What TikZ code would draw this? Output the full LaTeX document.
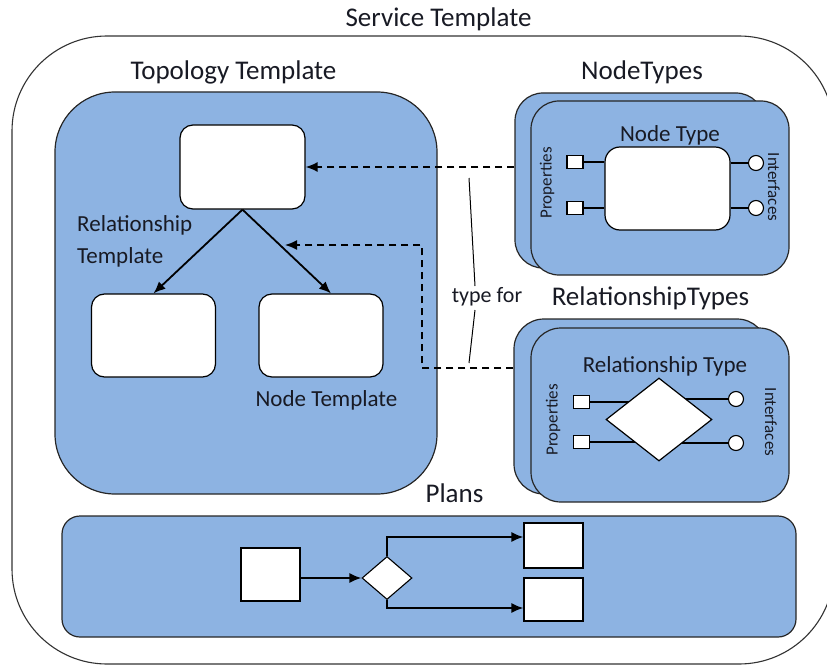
\documentclass[tikz,border=0pt]{standalone}
\usepackage{fontspec}
\setmainfont{Carlito}
\usetikzlibrary{arrows.meta,shapes.geometric,calc}
\definecolor{panelblue}{RGB}{141,179,226}
\definecolor{ink}{RGB}{24,26,36}
\pgfdeclarelayer{panels}
\pgfdeclarelayer{wires}
\pgfsetlayers{panels,wires,main}
\begin{document}
\begin{tikzpicture}[x=1pt,y=-1pt,
  panel/.style={draw=black!85,line width=1.2pt,fill=panelblue,inner sep=0pt},
  card/.style={draw=black,line width=1.2pt,fill=white,inner sep=0pt,rounded corners=13pt},
  plainbox/.style={draw=black,line width=1.1pt,fill=white,inner sep=0pt},
  title/.style={font=\fontsize{27}{32}\selectfont,text=ink,inner sep=0pt},
  label/.style={font=\fontsize{23}{32}\selectfont,text=ink,inner sep=0pt},
  small/.style={font=\fontsize{17}{19}\selectfont,text=ink,inner sep=0pt},
  port/.style={draw=black,line width=1.1pt,fill=white,minimum width=16pt,minimum height=13pt,inner sep=0pt},
  iface/.style={circle,draw=black,line width=1.1pt,fill=white,minimum size=15pt,inner sep=0pt},
  link/.style={line width=1.8pt,-{Latex[length=12pt,width=10pt]}},
  typeref/.style={line width=1.6pt,dash pattern=on 7pt off 5pt,-{Latex[length=12pt,width=10pt]}},
  wire/.style={line width=1.4pt},
  bracket/.style={line width=1pt}
]
\useasboundingbox (0,0) rectangle (827,666);
\clip (0,0) rectangle (827,666);

% ---------- service template frame ----------
\begin{pgfonlayer}{panels}
\draw[line width=1.1pt,draw=black!80,rounded corners=95pt] (12,36) rectangle (834,664);
\end{pgfonlayer}
\node[title] (svc) at (438.5,19) {Service Template};

% ---------- topology template ----------
\node[title] (topoT) at (233.5,72) {Topology Template};
\begin{pgfonlayer}{panels}
\node[panel,rounded corners=60pt,minimum width=382pt,minimum height=402pt] (topo) at (246,293) {};
\end{pgfonlayer}
\node[card,minimum width=125pt,minimum height=84pt] (rel) at (242.5,167) {};
\node[card,minimum width=124pt,minimum height=83pt] (srcN) at (153.5,335.5) {};
\node[card,minimum width=124pt,minimum height=83pt] (tgtN) at (321,335.5) {};
\draw[link] (rel.south) -- (srcN.north);
\draw[link] (rel.south) -- ($(tgtN.north)+(10,0)$);
\node[label,align=left,anchor=north west] (relLbl) at (77,215) {Relationship\\Template};
\node[label] (ntLbl) at (326.5,400) {Node Template};

% ---------- node types ----------
\node[title] (ntT) at (642,72) {NodeTypes};
\begin{pgfonlayer}{panels}
\node[panel,rounded corners=28pt,minimum width=249pt,minimum height=175pt] (ntBack) at (639.5,180.5) {};
\node[panel,rounded corners=28pt,minimum width=258pt,minimum height=174pt] (ntFront) at (660,188) {};
\end{pgfonlayer}
\node[label] (ntName) at (670,135) {Node Type};
\node[card,rounded corners=15pt,minimum width=125pt,minimum height=83pt] (ntBody) at (667.5,188.5) {};
\node[port] (ntP1) at (575,162) {};
\node[port] (ntP2) at (575,208) {};
\node[iface] (ntI1) at (756,163) {};
\node[iface] (ntI2) at (756,208) {};
\draw[wire] (ntP1.east) -- (ntP1.east -| ntBody.west);
\draw[wire] (ntP2.east) -- (ntP2.east -| ntBody.west);
\draw[wire] (ntI1.west -| ntBody.east) -- (ntI1.west);
\draw[wire] (ntI2.west -| ntBody.east) -- (ntI2.west);
\node[small,rotate=90] (ntProps) at (547,183) {Properties};
\node[small,rotate=-90] (ntIfs) at (774,187) {Interfaces};

% ---------- relationship types ----------
\node[title] (rtT) at (650.5,298) {RelationshipTypes};
\begin{pgfonlayer}{panels}
\node[panel,rounded corners=30pt,minimum width=253pt,minimum height=175pt] (rtBack) at (640.5,406.5) {};
\node[panel,rounded corners=30pt,minimum width=258pt,minimum height=174pt] (rtFront) at (660,415) {};
\end{pgfonlayer}
\node[label] (rtName) at (665,366) {Relationship Type};
\node[diamond,draw=black,line width=1.2pt,fill=white,inner sep=0pt,minimum width=106pt,minimum height=83pt] (rtBody) at (659,419.5) {};
\node[port] (rtP1) at (581.5,402) {};
\node[port] (rtP2) at (581.5,442) {};
\node[iface] (rtI1) at (736,399) {};
\node[iface] (rtI2) at (736,443) {};
\begin{pgfonlayer}{wires}
\draw[wire] (rtP1.east) -- (rtP1.east -| rtBody.center);
\draw[wire] (rtP2.east) -- (rtP2.east -| rtBody.center);
\draw[wire] (rtI1.west -| rtBody.center) -- (rtI1.west);
\draw[wire] (rtI2.west -| rtBody.center) -- (rtI2.west);
\end{pgfonlayer}
\node[small,rotate=90] (rtProps) at (553,420) {Properties};
\node[small,rotate=-90] (rtIfs) at (771,422) {Interfaces};

% ---------- "type for" references ----------
\coordinate (relHit) at (285,245);
\draw[typeref] (ntBack.west |- rel.east) -- (rel.east);
\draw[typeref] (rtBack.west |- 0,368) -| (422,245) -- (relHit);
\node[label,font=\fontsize{22}{26}\selectfont] (typeFor) at (487,297) {type for};
\draw[bracket] (469,178) -- (475,286);
\draw[bracket] (475,310) -- (469,363);

% ---------- plans ----------
\node[title] (plT) at (454.5,493) {Plans};
\begin{pgfonlayer}{panels}
\node[panel,rounded corners=18pt,minimum width=734pt,minimum height=121pt] (plans) at (429,576.5) {};
\end{pgfonlayer}
\node[plainbox,minimum width=59pt,minimum height=53pt] (plStart) at (270.5,574.5) {};
\node[diamond,draw=black,line width=1.1pt,fill=white,inner sep=0pt,minimum width=50pt,minimum height=43pt] (plDec) at (387,578) {};
\node[plainbox,minimum width=59pt,minimum height=45pt] (plA) at (553.5,545.5) {};
\node[plainbox,minimum width=59pt,minimum height=43pt] (plB) at (553.5,599.5) {};
\draw[link] (plStart.east |- plDec.west) -- (plDec.west);
\draw[link] (plDec.north) |- ($(plA.west)+(0,-8.5)$);
\draw[link] (plDec.south) |- ($(plB.west)+(0,8.5)$);
\end{tikzpicture}
\end{document}
